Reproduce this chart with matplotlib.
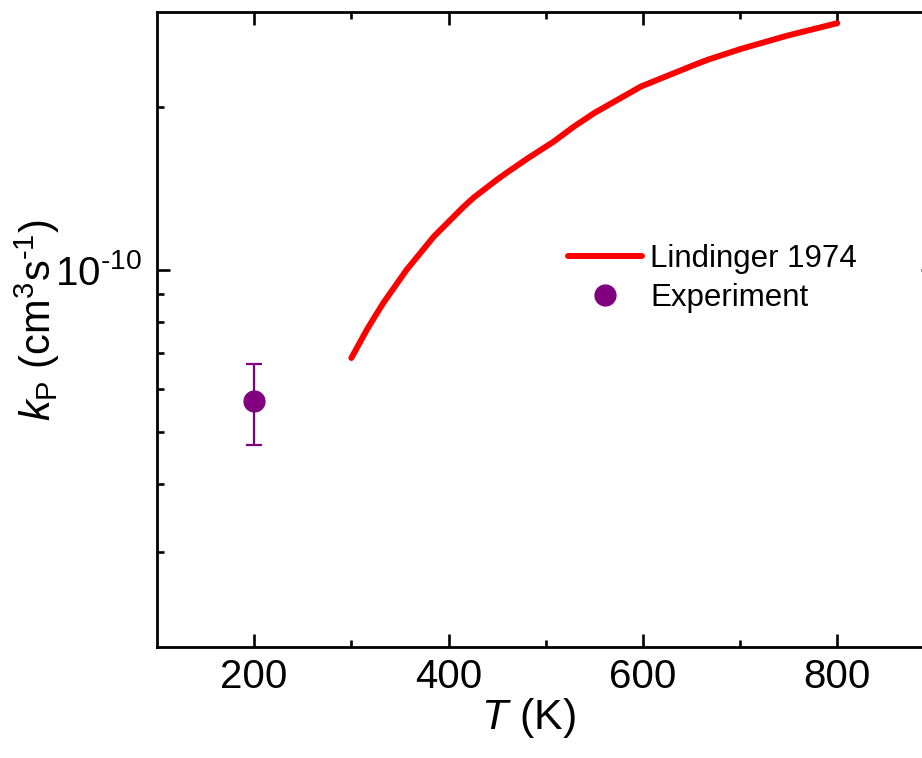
""" Rate coefficient k_P vs temperature: Lindinger 1974 curve and experiment point """

import numpy as np
import matplotlib
matplotlib.use("Agg")
import matplotlib.pyplot as plt
from matplotlib.ticker import FixedLocator, FixedFormatter, NullFormatter

plt.rcParams["font.family"] = ["Liberation Sans", "DejaVu Sans"]
plt.rcParams["mathtext.fontset"] = "custom"
plt.rcParams["mathtext.rm"] = "Liberation Sans"
plt.rcParams["mathtext.it"] = "Liberation Sans:italic"

# Lindinger 1974
lind_T = [300, 316, 323, 333, 357, 385, 416, 426, 450, 460, 481, 508, 529,
          550, 598, 653, 667, 701, 749, 800]
lind_k = [0.686e-10, 0.774e-10, 0.812e-10, 0.868e-10, 1.000e-10, 1.152e-10,
          1.310e-10, 1.360e-10, 1.468e-10, 1.512e-10, 1.605e-10, 1.725e-10,
          1.840e-10, 1.950e-10, 2.183e-10, 2.394e-10, 2.448e-10, 2.563e-10,
          2.713e-10, 2.860e-10]

# experiment
exp_T = [200]
exp_k = [5.72e-11]
exp_lo = [4.74e-11]
exp_hi = [6.70e-11]

fig = plt.figure(figsize=(9.22, 7.58), dpi=100)
ax = fig.add_axes([0.1703, 0.1464, 1.0134 - 0.1703, 0.9842 - 0.1464])

ax.plot(lind_T, lind_k, color="red", lw=4.3, solid_capstyle="round",
        solid_joinstyle="round", label="Lindinger 1974")
yerr = [np.array(exp_k) - np.array(exp_lo), np.array(exp_hi) - np.array(exp_k)]
ax.errorbar(exp_T, exp_k, yerr=yerr, fmt="none", ecolor="purple",
            elinewidth=1.6, capsize=5.5, capthick=1.6)
ax.plot(exp_T, exp_k, "o", color="purple", ms=15, label="Experiment")

ax.set_yscale("log")
ax.set_xlim(100, 900)
ax.set_ylim(2e-11, 3e-10)

ax.xaxis.set_major_locator(FixedLocator([200, 400, 600, 800]))
ax.xaxis.set_minor_locator(FixedLocator([300, 500, 700]))
ax.yaxis.set_major_locator(FixedLocator([1e-10]))
ax.yaxis.set_major_formatter(FixedFormatter(["10$^{\\text{-10}}$"]))
ax.yaxis.set_minor_locator(FixedLocator([3e-11, 4e-11, 5e-11, 6e-11, 7e-11,
                                         8e-11, 9e-11, 2e-10]))
ax.yaxis.set_minor_formatter(NullFormatter())

ax.tick_params(which="both", direction="in", top=True, right=True, width=1.9,
               labelsize=29)
ax.tick_params(which="major", length=9.5, pad=8)
ax.tick_params(axis="y", which="major", pad=11)
ax.tick_params(which="minor", length=5)
for s in ax.spines.values():
    s.set_linewidth(2)

ax.set_xlabel("$\\mathit{T}$ (K)", fontsize=31)
ax.xaxis.set_label_coords((528 - 157) / 777.4, -0.077)
ax.set_ylabel("$\\mathit{k}_\\mathrm{P}$ (cm$^3$s$^{\\text{-1}}$)", fontsize=30)
ax.yaxis.set_label_coords(-0.122, 0.515)

leg = ax.legend(loc="upper left", bbox_to_anchor=(0.5287, 0.635), frameon=False,
                fontsize=22.5, handlelength=2.37, handletextpad=0.26,
                labelspacing=0.28, borderaxespad=0, borderpad=0)

fig.savefig("out.png", dpi=100)
